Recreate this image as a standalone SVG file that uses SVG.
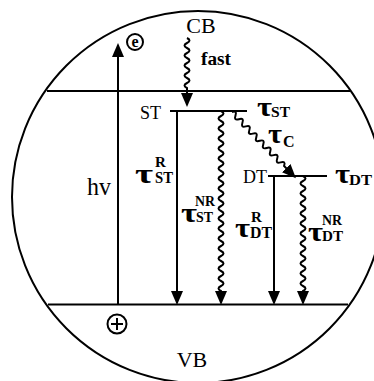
<svg xmlns="http://www.w3.org/2000/svg" width="374" height="381" viewBox="0 0 374 381">
<style>
.ln{stroke:#000;stroke-width:2;fill:none}
.wv{stroke:#000;stroke-width:2;fill:none}
.t{font-family:"Liberation Serif","Times New Roman",serif;fill:#000}
.b{font-weight:bold}
</style>
<defs>
<marker id="ah" markerUnits="userSpaceOnUse" markerWidth="14" markerHeight="12" viewBox="0 0 14 12" refX="9" refY="6" orient="auto">
<path d="M0,0 L14,6 L0,12 z" fill="#000"/>
</marker>
</defs>
<rect width="374" height="381" fill="#fff"/>
<g id="frame">
<circle cx="198" cy="197" r="186" class="ln"/>
</g>
<g id="cb">
<line x1="47" y1="91" x2="350" y2="91" class="ln"/>
<text x="201" y="33" class="t" font-size="22" text-anchor="middle">CB</text>
</g>
<g id="vb">
<line x1="48" y1="304.5" x2="348" y2="304.5" class="ln" stroke-width="2.4"/>
<text x="192" y="367" class="t" font-size="22" text-anchor="middle">VB</text>
</g>
<g id="electron">
<circle cx="135" cy="42" r="8" class="ln"/>
<text x="135" y="47" class="t b" font-size="16" text-anchor="middle">e</text>
</g>
<g id="hole">
<circle cx="117" cy="324" r="9.5" class="ln"/>
<path d="M111 324 H123 M117 318 V330" class="ln"/>
</g>
<g id="st">
<line x1="170" y1="111" x2="247" y2="111" class="ln"/>
<text x="140" y="119" class="t" font-size="18">ST</text>
<text x="257" y="116" class="t b" font-size="28" textLength="15" lengthAdjust="spacingAndGlyphs">τ</text>
<text x="271" y="117" class="t b" font-size="14" textLength="19" lengthAdjust="spacingAndGlyphs">ST</text>
</g>
<g id="dt">
<line x1="268" y1="176" x2="327" y2="176" class="ln"/>
<text x="243" y="183" class="t" font-size="18" textLength="24" lengthAdjust="spacingAndGlyphs">DT</text>
<text x="335" y="183" class="t b" font-size="28" textLength="15" lengthAdjust="spacingAndGlyphs">τ</text>
<text x="349" y="185" class="t b" font-size="14" textLength="23" lengthAdjust="spacingAndGlyphs">DT</text>
</g>
<g id="connectors">
<line x1="118" y1="304" x2="118" y2="48" class="ln" marker-end="url(#ah)"/>
<path class="wv" marker-end="url(#ah)" d="M187 38 q5 2.5 0 5 t0 5 t0 5 t0 5 t0 5 t0 5 t0 5 t0 5 t0 5 t0 5 L187 102"/>
<line x1="177" y1="111" x2="177" y2="300" class="ln" marker-end="url(#ah)"/>
<path class="wv" marker-end="url(#ah)" d="M221 111 q5 2.5 0 5 t0 5 t0 5 t0 5 t0 5 t0 5 t0 5 t0 5 t0 5 t0 5 t0 5 t0 5 t0 5 t0 5 t0 5 t0 5 t0 5 t0 5 t0 5 t0 5 t0 5 t0 5 t0 5 t0 5 t0 5 t0 5 t0 5 t0 5 t0 5 t0 5 t0 5 t0 5 t0 5 t0 5 t0 5 t0 5 L221 300"/>
<path class="wv" marker-end="url(#ah)" transform="translate(232,112) rotate(46)" d="M0 0 q2.5 -5 5 0 t5 0 t5 0 t5 0 t5 0 t5 0 t5 0 t5 0 t5 0 t5 0 t5 0 t5 0 t5 0 t5 0 t5 0 L87 0"/>
<line x1="274" y1="176" x2="274" y2="300" class="ln" marker-end="url(#ah)"/>
<path class="wv" marker-end="url(#ah)" d="M303 176 q5 2.5 0 5 t0 5 t0 5 t0 5 t0 5 t0 5 t0 5 t0 5 t0 5 t0 5 t0 5 t0 5 t0 5 t0 5 t0 5 t0 5 t0 5 t0 5 t0 5 t0 5 t0 5 t0 5 t0 5 L303 300"/>
</g>
<g id="labels">
<text x="201" y="65" class="t b" font-size="18" textLength="30" lengthAdjust="spacingAndGlyphs">fast</text>
<text x="87" y="195" class="t" font-size="26" textLength="24" lengthAdjust="spacingAndGlyphs">hv</text>
<text x="268" y="143" class="t b" font-size="28" textLength="14" lengthAdjust="spacingAndGlyphs">τ</text>
<text x="283" y="147" class="t b" font-size="16">C</text>
<text x="135" y="183" class="t b" font-size="28" textLength="18" lengthAdjust="spacingAndGlyphs">τ</text>
<text x="155" y="167" class="t b" font-size="15">R</text>
<text x="155" y="183" class="t b" font-size="16" textLength="18" lengthAdjust="spacingAndGlyphs">ST</text>
<text x="181" y="222" class="t b" font-size="28" textLength="16" lengthAdjust="spacingAndGlyphs">τ</text>
<text x="195" y="206" class="t b" font-size="15" textLength="20" lengthAdjust="spacingAndGlyphs">NR</text>
<text x="196" y="222" class="t b" font-size="15" textLength="17" lengthAdjust="spacingAndGlyphs">ST</text>
<text x="235" y="237" class="t b" font-size="28" textLength="15" lengthAdjust="spacingAndGlyphs">τ</text>
<text x="251" y="222" class="t b" font-size="15">R</text>
<text x="250" y="238" class="t b" font-size="16" textLength="22" lengthAdjust="spacingAndGlyphs">DT</text>
<text x="308" y="241" class="t b" font-size="28" textLength="15" lengthAdjust="spacingAndGlyphs">τ</text>
<text x="322" y="225" class="t b" font-size="15" textLength="20" lengthAdjust="spacingAndGlyphs">NR</text>
<text x="322" y="241" class="t b" font-size="15" textLength="21" lengthAdjust="spacingAndGlyphs">DT</text>
</g>
</svg>
